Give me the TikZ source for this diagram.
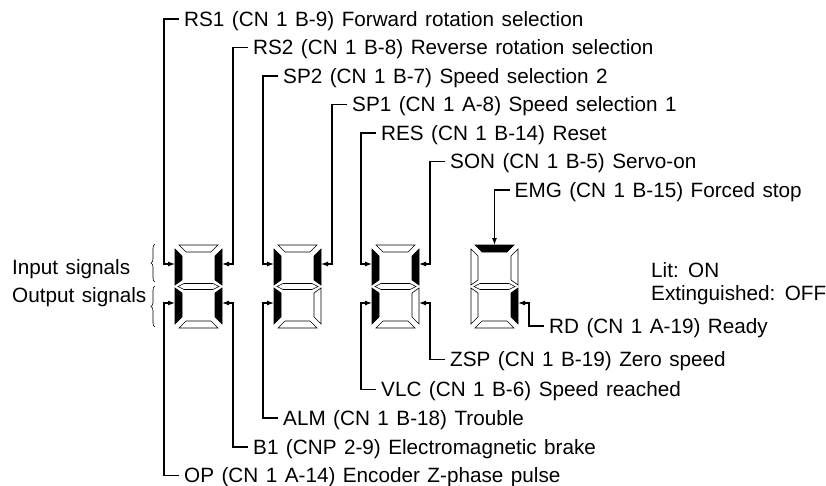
\documentclass[tikz,border=0pt]{standalone}
\usepackage{fontspec}
\setmainfont[WordSpace=1.3]{Liberation Sans}
\usetikzlibrary{arrows.meta,decorations.pathreplacing}

\begin{document}
\begin{tikzpicture}[
  x=1pt, y=-1pt,
  font=\fontsize{20.7}{24}\selectfont,
  seglit/.style={fill=black, draw=black, line width=0.6pt},
  segoff/.style={fill=white, draw=black, line width=0.6pt},
  wire/.style={line width=1.1pt, -{Latex[length=7pt,width=5pt]}},
  lbl/.style={anchor=west, inner xsep=5pt, inner ysep=0pt, text height=14.7pt, text depth=0pt},
  sig/.style={anchor=west, inner sep=0pt, text height=14.7pt, text depth=0pt},
  brc/.style={line width=0.6pt, decorate, decoration={brace, amplitude=4pt}},
]
\useasboundingbox (0,0) rectangle (826,486);

% ---------- digits ----------
% no., left x, segments a b c d e f g
\foreach \i/\x/\sa/\sb/\sc/\sd/\se/\sf/\sg in {
  1/175/segoff/seglit/seglit/segoff/seglit/seglit/segoff,
  2/274/segoff/seglit/segoff/segoff/seglit/seglit/segoff,
  3/372/segoff/seglit/segoff/segoff/seglit/seglit/segoff,
  4/471/seglit/segoff/seglit/segoff/segoff/segoff/segoff}
{
  \begin{scope}[shift={(\x,245)}]
    \draw[\sa] (4,0) -- (43,0) -- (36,7) -- (11,7) -- cycle;
    \draw[\sb] (47,4) -- (47,40) -- (40,35) -- (40,11) -- cycle;
    \draw[\sc] (47,43) -- (47,79) -- (40,72) -- (40,48) -- cycle;
    \draw[\sd] (4,83) -- (43,83) -- (36,76) -- (11,76) -- cycle;
    \draw[\se] (0,43) -- (0,79) -- (7,72) -- (7,48) -- cycle;
    \draw[\sf] (0,4) -- (0,40) -- (7,35) -- (7,11) -- cycle;
    \draw[\sg] (3,41.5) -- (9,38.5) -- (38,38.5) -- (44,41.5) -- (38,44.5) -- (9,44.5) -- cycle;
    % arrow targets
    \coordinate (d\i a) at (23.5,0);
    \coordinate (d\i b) at (47,19);
    \coordinate (d\i c) at (47,58);
    \coordinate (d\i e) at (0,58);
    \coordinate (d\i f) at (0,19);
  \end{scope}
}

% ---------- signal labels ----------
% name, corner x, y, text, target
\foreach \nm/\cx/\y/\txt/\tgt in {
  rs1/164/19/{RS1 (CN 1 B-9) Forward rotation selection}/d1f,
  rs2/233/47.5/{RS2 (CN 1 B-8) Reverse rotation selection}/d1b,
  sp2/263/76/{SP2 (CN 1 B-7) Speed selection 2}/d2f,
  sp1/332/104.5/{SP1 (CN 1 A-8) Speed selection 1}/d2b,
  res/361/133/{RES (CN 1 B-14) Reset}/d3f,
  son/430/161.5/{SON (CN 1 B-5) Servo-on}/d3b,
  rd/529/326/{RD (CN 1 A-19) Ready}/d4c,
  zsp/430/359.5/{ZSP (CN 1 B-19) Zero speed}/d3c,
  vlc/361/389.5/{VLC (CN 1 B-6) Speed reached}/d3e,
  alm/263/418/{ALM (CN 1 B-18) Trouble}/d2e,
  b1/233/447/{B1 (CNP 2-9) Electromagnetic brake}/d1c,
  op/164/475.5/{OP (CN 1 A-14) Encoder Z-phase pulse}/d1e}
{
  \node[lbl] (\nm) at (\cx+15,\y) {\txt};
  \draw[wire] (\nm.west) -- ++(-15,0) |- (\tgt);
}

% EMG points down onto the top segment
\node[lbl] (emg) at (509.5,190) {EMG (CN 1 B-15) Forced stop};
\draw[wire] (emg.west) -- (emg.west -| d4a) -- (d4a);

% ---------- left side ----------
\node[sig] (insig) at (12,267) {Input signals};
\node[sig] (outsig) at (12,295) {Output signals};
\draw[brc] (155,282) -- (155,244);
\draw[brc] (155,327) -- (155,286);

% ---------- legend ----------
\node[sig] (lit) at (651,270) {Lit: ON};
\node[sig] (ext) at (651,293) {Extinguished: OFF};

\end{tikzpicture}
\end{document}
